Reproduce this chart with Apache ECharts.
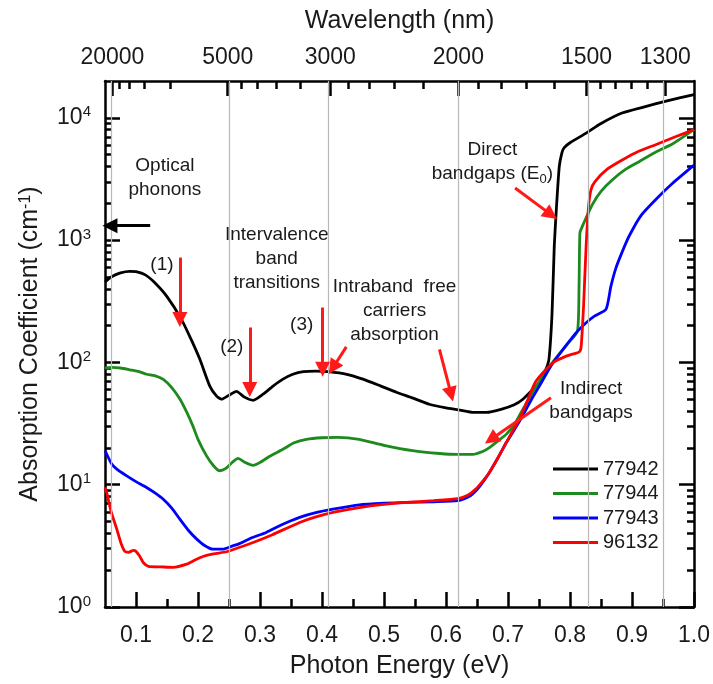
<!DOCTYPE html>
<html>
<head>
<meta charset="utf-8">
<script src="https://cdn.jsdelivr.net/npm/echarts@6/dist/echarts.min.js"></script>
<style>
  html, body { margin: 0; background: #fff; }
  #chart { width: 713px; height: 684px; }
</style>
</head>
<body>
<div id="chart"></div>
<script>
const HC = 1239.84 // eV * nm, wavelength <-> photon energy
const FONT = 'Liberation Sans, Arial, sans-serif'

// [photon energy (eV), absorption coefficient (cm^-1)]
const s77942 = [
  [0.05, 455], [0.06, 500], [0.075, 540], [0.09, 556], [0.1, 552], [0.115, 520], [0.13, 450],
  [0.15, 345], [0.1735, 224], [0.19, 150], [0.203, 106], [0.219, 64], [0.23, 53], [0.238, 50],
  [0.25, 54], [0.262, 58], [0.275, 52], [0.289, 49], [0.305, 55], [0.321, 64], [0.337, 73],
  [0.353, 80], [0.37, 84], [0.39, 85], [0.41, 84], [0.44, 80], [0.466, 73], [0.495, 64],
  [0.52, 57], [0.547, 51], [0.573, 45.5], [0.6, 42.5], [0.62, 41], [0.645, 39], [0.665, 39],
  [0.69, 41.5], [0.71, 45], [0.724, 50], [0.74, 60], [0.75, 68], [0.76, 85], [0.766, 106],
  [0.771, 250], [0.7746, 890], [0.778, 1800], [0.7827, 4000], [0.787, 5200], [0.7907, 5700],
  [0.8, 6250], [0.826, 7500], [0.85, 9000], [0.885, 11000], [0.92, 12300], [0.955, 13700], [1.0, 15500]
]
const s77944 = [
  [0.05, 90], [0.06, 91], [0.075, 90], [0.09, 87], [0.105, 84], [0.117, 80], [0.13, 78],
  [0.144, 72.7], [0.158, 62], [0.171, 50], [0.182, 39], [0.192, 30], [0.2, 23.5], [0.2138, 17.2],
  [0.225, 14.3], [0.235, 13], [0.245, 13.6], [0.255, 15.2], [0.2647, 16.4], [0.275, 15.3],
  [0.289, 14.4], [0.3, 15.2], [0.315, 17], [0.337, 19.5], [0.355, 22], [0.375, 23.5], [0.4, 24.2],
  [0.425, 24.4], [0.46, 23.5], [0.5, 21], [0.546, 19], [0.59, 18], [0.619, 17.7], [0.643, 17.7],
  [0.66, 18.8], [0.67, 20.1], [0.685, 23], [0.697, 25.8], [0.71, 31], [0.72, 38], [0.745, 63],
  [0.772, 100], [0.795, 140], [0.812, 180], [0.8145, 400], [0.816, 1145], [0.82, 1300],
  [0.836, 1950], [0.85, 2500], [0.868, 3100], [0.89, 3800], [0.912, 4400], [0.94, 5300],
  [0.965, 6100], [1.0, 8000]
]
const s77943 = [
  [0.05, 19], [0.0516, 18.3], [0.06, 15], [0.069, 13.4], [0.085, 11.8], [0.1, 10.6], [0.117, 9.5],
  [0.13, 8.6], [0.144, 7.6], [0.158, 6.4], [0.171, 5.2], [0.185, 4.2], [0.198, 3.59], [0.21, 3.2],
  [0.224, 2.97], [0.24, 2.97], [0.255, 3.15], [0.267, 3.3], [0.285, 3.65], [0.31, 4.07],
  [0.335, 4.7], [0.364, 5.4], [0.39, 5.9], [0.4176, 6.3], [0.46, 6.84], [0.5, 7.05], [0.536, 7.16],
  [0.58, 7.25], [0.619, 7.4], [0.635, 7.9], [0.643, 8.4], [0.655, 9.8], [0.67, 12.6], [0.685, 17],
  [0.697, 22], [0.71, 28], [0.724, 37], [0.74, 52], [0.7505, 64], [0.77, 95], [0.79, 130],
  [0.81, 175], [0.826, 211], [0.84, 240], [0.858, 271], [0.866, 420], [0.874, 590], [0.885, 820],
  [0.8954, 1080], [0.915, 1600], [0.938, 2140], [0.965, 2900], [1.0, 4100]
]
const s96132 = [
  [0.05, 9.5], [0.0527, 8.6], [0.06, 6], [0.069, 4.33], [0.076, 3.3], [0.082, 2.85], [0.088, 2.8],
  [0.0956, 2.9], [0.1, 2.85], [0.106, 2.6], [0.112, 2.3], [0.12, 2.15], [0.14, 2.13], [0.16, 2.11],
  [0.1816, 2.24], [0.195, 2.42], [0.208, 2.59], [0.225, 2.72], [0.246, 2.83], [0.265, 3.05],
  [0.289, 3.37], [0.32, 3.9], [0.364, 4.91], [0.39, 5.45], [0.4176, 5.93], [0.46, 6.5], [0.5, 6.9],
  [0.536, 7.16], [0.58, 7.4], [0.619, 7.7], [0.635, 8.2], [0.648, 9.2], [0.66, 10.8], [0.67, 12.6],
  [0.685, 17], [0.697, 22], [0.71, 29], [0.718, 34], [0.73, 47], [0.745, 70], [0.772, 99],
  [0.795, 113], [0.815, 122], [0.818, 135], [0.822, 300], [0.826, 900], [0.83, 1900], [0.834, 2600],
  [0.84, 3000], [0.86, 3800], [0.885, 4540], [0.91, 5300], [0.938, 6030], [0.97, 7000], [1.0, 8000]
]

const seriesNames = ['77942', '77944', '77943', '96132']
const seriesData = [s77942, s77944, s77943, s96132]
const seriesColors = ['#000000', '#1c8a1c', '#0000ff', '#ff0000']

// axes
const energyTicks = [0.1, 0.2, 0.3, 0.4, 0.5, 0.6, 0.7, 0.8, 0.9, 1.0]
const energyMinorTicks = [0.15, 0.25, 0.35, 0.45, 0.55, 0.65, 0.75, 0.85, 0.95]
const alphaTicks = [1, 10, 100, 1000, 10000]
const alphaMinorTicks = [2, 3, 4, 5, 6, 7, 8, 9, 20, 30, 40, 50, 60, 70, 80, 90,
  200, 300, 400, 500, 600, 700, 800, 900, 2000, 3000, 4000, 5000, 6000, 7000, 8000, 9000]
const wavelengthTicks = [20000, 5000, 3000, 2000, 1500, 1300]
const wavelengthMinorTicks = [17000, 14000, 11000, 8000, 4600, 4200, 3800, 3400,
  2800, 2600, 2400, 2200, 1900, 1800, 1700, 1600, 1460, 1420, 1380, 1340]

// annotations, in data coordinates
const textNotes = [
  ['Optical\nphonons', 0.1466, 3210],
  ['Intervalence\nband\ntransitions', 0.327, 706],
  ['Intraband  free\ncarriers\nabsorption', 0.517, 266],
  ['Direct\nbandgaps (E{sub|0})', 0.6748, 4335],
  ['Indirect\nbandgaps', 0.834, 48.5],
  ['(1)', 0.1418, 631],
  ['(2)', 0.2545, 135],
  ['(3)', 0.3672, 204]
]
const redArrows = [
  [0.1708, 720, 0.1708, 224],
  [0.2835, 193, 0.2835, 60],
  [0.401, 281, 0.401, 88],
  [0.4392, 134, 0.4176, 90.5],
  [0.5894, 128, 0.6083, 54.8],
  [0.7114, 2670, 0.7693, 1616],
  [0.7693, 51.5, 0.6727, 23.5]
]
const blackArrow = [0.1229, 1313, 0.058, 1313]

const toEnergy = w => HC / w

const chart = echarts.init(document.getElementById('chart'))

const tickLine = { color: '#000', width: 2.5 }
const frameLine = { show: true, onZero: false, lineStyle: { color: '#000', width: 2.5 } }
const noLine = { show: false, onZero: false }
const labelStyle = { fontFamily: FONT, fontSize: 23, color: '#1a1a1a' }
const nameStyle = { fontFamily: FONT, fontSize: 25, color: '#1a1a1a' }

function xAxisDef(position, opts) {
  return Object.assign({
    type: 'value', position, min: 0.05, max: 1.0,
    splitLine: { show: false }, axisLabel: { show: false }
  }, opts)
}
function yAxisDef(position, opts) {
  return Object.assign({
    type: 'log', logBase: 10, position, min: 1, max: 20000,
    splitLine: { show: false }, axisLabel: { show: false }
  }, opts)
}

const supLabel = v => '{b|10}{s|' + Math.round(Math.log10(v)) + '}'

const dataSeries = seriesNames.map((name, i) => ({
  name, type: 'line', data: seriesData[i], xAxisIndex: 0, yAxisIndex: 0,
  symbol: 'none', showSymbol: false, smooth: 0.2, z: 3,
  lineStyle: { color: seriesColors[i], width: 2.8 },
  itemStyle: { color: seriesColors[i] }
}))

const arrowLines = redArrows.map(a => [{ coord: [a[0], a[1]] }, { coord: [a[2], a[3]] }])
arrowLines.push([
  { coord: [blackArrow[0], blackArrow[1]], lineStyle: { color: '#000' } },
  { coord: [blackArrow[2], blackArrow[3]] }
])

chart.setOption({
  animation: false,
  grid: { left: 105, right: 18, top: 81, bottom: 76 },
  legend: {
    data: seriesNames, orient: 'vertical', left: 548, top: 454,
    icon: 'rect', itemWidth: 45, itemHeight: 3, itemGap: 4.5,
    textStyle: { fontFamily: FONT, fontSize: 20, color: '#1a1a1a', lineHeight: 20 }
  },
  xAxis: [
    xAxisDef('bottom', {
      axisLine: frameLine,
      axisTick: { inside: true, length: 15, lineStyle: tickLine, customValues: energyTicks },
      axisLabel: { show: true, customValues: energyTicks, margin: 17, formatter: v => v.toFixed(1), ...labelStyle },
      name: 'Photon Energy (eV)', nameLocation: 'middle', nameGap: 47, nameTextStyle: nameStyle
    }),
    xAxisDef('bottom', {
      axisLine: noLine,
      axisTick: { inside: true, length: 8, lineStyle: tickLine, customValues: energyMinorTicks }
    }),
    xAxisDef('top', {
      axisLine: frameLine,
      axisTick: { inside: true, length: 15, lineStyle: tickLine, customValues: wavelengthTicks.map(toEnergy) },
      axisLabel: { show: true, customValues: wavelengthTicks.map(toEnergy), margin: 12,
        formatter: v => String(Math.round(HC / v)), ...labelStyle },
      name: 'Wavelength (nm)', nameLocation: 'middle', nameGap: 47, nameTextStyle: nameStyle
    }),
    xAxisDef('top', {
      axisLine: noLine,
      axisTick: { inside: true, length: 8, lineStyle: tickLine, customValues: wavelengthMinorTicks.map(toEnergy) }
    })
  ],
  yAxis: [
    yAxisDef('left', {
      axisLine: frameLine,
      axisTick: { inside: true, length: 15, lineStyle: tickLine, customValues: alphaTicks },
      axisLabel: {
        show: true, customValues: alphaTicks, margin: 14, formatter: supLabel,
        rich: {
          b: { fontFamily: FONT, fontSize: 23, color: '#1a1a1a', lineHeight: 26 },
          s: { fontFamily: FONT, fontSize: 15, color: '#1a1a1a', lineHeight: 15, verticalAlign: 'top' }
        }
      },
      name: 'Absorption Coefficient (cm{s|-1})', nameLocation: 'middle', nameGap: 62,
      nameTextStyle: Object.assign({}, nameStyle, {
        rich: { s: { fontFamily: FONT, fontSize: 16, color: '#1a1a1a', lineHeight: 16, verticalAlign: 'top' } }
      })
    }),
    yAxisDef('left', {
      axisLine: noLine,
      axisTick: { inside: true, length: 7, lineStyle: tickLine, customValues: alphaMinorTicks }
    }),
    yAxisDef('right', {
      axisLine: frameLine,
      axisTick: { inside: true, length: 15, lineStyle: tickLine, customValues: alphaTicks }
    }),
    yAxisDef('right', {
      axisLine: noLine,
      axisTick: { inside: true, length: 7, lineStyle: tickLine, customValues: alphaMinorTicks }
    })
  ],
  series: dataSeries.concat([
    {
      // vertical guide lines at the labelled wavelengths
      name: 'guides', type: 'line', data: [], xAxisIndex: 0, yAxisIndex: 0, z: 1,
      markLine: {
        silent: true, symbol: ['none', 'none'], label: { show: false },
        lineStyle: { color: '#b8b8b8', width: 1.2, type: 'solid' },
        data: wavelengthTicks.map(w => ({ xAxis: toEnergy(w) }))
      }
    },
    {
      name: 'notes', type: 'line', data: [], xAxisIndex: 0, yAxisIndex: 0, z: 5,
      markLine: {
        silent: true, symbol: ['none', 'triangle'], symbolSize: 15, label: { show: false },
        lineStyle: { color: '#ff1a1a', width: 3, type: 'solid' },
        data: arrowLines
      },
      markPoint: {
        silent: true, symbol: 'rect', symbolSize: 1, itemStyle: { color: 'transparent' },
        label: {
          show: true, position: 'inside', formatter: p => p.name,
          fontFamily: FONT, fontSize: 19, lineHeight: 24, color: '#1a1a1a', align: 'center',
          rich: { sub: { fontFamily: FONT, fontSize: 13, lineHeight: 13, verticalAlign: 'bottom', color: '#1a1a1a' } }
        },
        data: textNotes.map(t => ({ name: t[0], coord: [t[1], t[2]] }))
      }
    }
  ])
})
</script>
</body>
</html>
